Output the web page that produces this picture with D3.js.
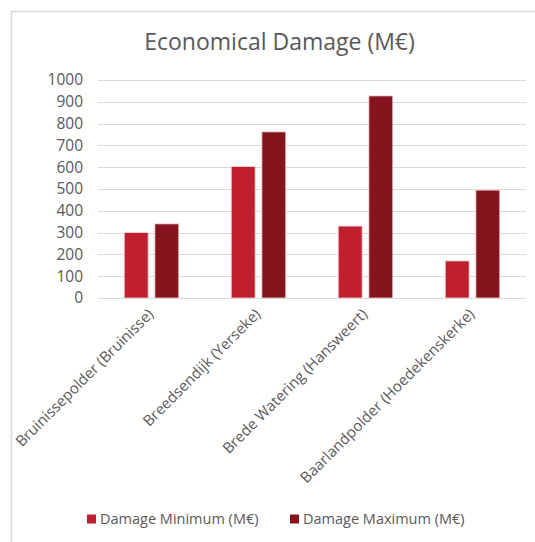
<!DOCTYPE html>
<html>
<head>
<meta charset="utf-8">
<script src="https://cdn.jsdelivr.net/npm/d3@7/dist/d3.min.js"></script>
<style>
  html, body { margin: 0; padding: 0; background: #fff; }
  svg { display: block; font-family: "Open Sans", sans-serif; }
</style>
</head>
<body>
<svg id="chart" width="535" height="542"></svg>
<script>
// Flood scenarios and their estimated economic damage range
const categories = [
  "Bruinissepolder (Bruinisse)",
  "Breedsendijk (Yerseke)",
  "Brede Watering (Hansweert)",
  "Baarlandpolder (Hoedekenskerke)"
];
const seriesNames = ["Damage Minimum (M€)", "Damage Maximum (M€)"];
const damageMinimum = [300, 603, 330, 170];
const damageMaximum = [340, 762, 927, 495];
const yTicks = [0, 100, 200, 300, 400, 500, 600, 700, 800, 900, 1000];
const colors = ["#C01F2F", "#86141F"];

const svg = d3.select("#chart");
const textColor = "#595959";

// Outer frame (top and left edges)
svg.append("path")
  .attr("d", "M11.5,542 V11.5 H535")
  .attr("fill", "none")
  .attr("stroke", "#d9d9d9")
  .attr("stroke-width", 1.5);

// Title
svg.append("text")
  .attr("x", 279.5)
  .attr("y", 50)
  .attr("text-anchor", "middle")
  .attr("fill", textColor)
  .attr("font-size", 23)
  .text("Economical Damage (M€)");

const plot = { left: 98, right: 526, top: 80, bottom: 298 };

const y = d3.scaleLinear().domain([0, 1000]).range([plot.bottom, plot.top]);
const x0 = d3.scaleBand().domain(categories).range([plot.left, plot.right])
  .paddingInner(0.49).paddingOuter(0.245);
const x1 = d3.scaleBand().domain(seriesNames).range([0, x0.bandwidth()])
  .paddingInner(0.22).paddingOuter(0);

// Gridlines
svg.append("g")
  .selectAll("line")
  .data(yTicks)
  .join("line")
  .attr("x1", plot.left)
  .attr("x2", plot.right)
  .attr("y1", d => Math.round(y(d)) + 0.5)
  .attr("y2", d => Math.round(y(d)) + 0.5)
  .attr("stroke", "#d9d9d9")
  .attr("stroke-width", 1);

// Y axis labels
const yAxis = d3.axisLeft(y).tickValues(yTicks).tickFormat(d3.format("d"))
  .tickSize(0).tickPadding(0);
const yg = svg.append("g")
  .attr("transform", `translate(83,0)`)
  .call(yAxis);
yg.select(".domain").remove();
yg.selectAll("text")
  .attr("fill", textColor)
  .attr("font-size", 15.5)
  .attr("font-family", "Open Sans, sans-serif");

// Bars
const rows = categories.map((c, i) => ({ cat: c, values: [damageMinimum[i], damageMaximum[i]] }));
svg.append("g")
  .selectAll("g")
  .data(rows)
  .join("g")
  .attr("transform", d => `translate(${x0(d.cat)},0)`)
  .selectAll("rect")
  .data(d => d.values.map((v, k) => ({ name: seriesNames[k], value: v, k })))
  .join("rect")
  .attr("x", d => x1(d.name))
  .attr("y", d => y(d.value))
  .attr("width", x1.bandwidth())
  .attr("height", d => y(0) - y(d.value))
  .attr("fill", d => colors[d.k])
  .attr("stroke", "#f3d6d8")
  .attr("stroke-width", 0.8);

// Category labels, rotated 45°
const xAxis = d3.axisBottom(x0).tickSize(0).tickPadding(0);
const xg = svg.append("g")
  .attr("transform", `translate(0,${plot.bottom})`)
  .call(xAxis);
xg.select(".domain").remove();
xg.selectAll("text")
  .attr("fill", textColor)
  .attr("font-size", 15)
  .attr("font-family", "Open Sans, sans-serif")
  .attr("text-anchor", "end")
  .attr("dy", null)
  .attr("y", 0)
  .attr("transform", "translate(3,17) rotate(-45)");

// Legend
const legend = svg.append("g").attr("transform", "translate(0,519)");
const legendX = [87, 290];
seriesNames.forEach((name, k) => {
  legend.append("rect")
    .attr("x", legendX[k])
    .attr("y", -4.5)
    .attr("width", 9)
    .attr("height", 9)
    .attr("fill", colors[k]);
  legend.append("text")
    .attr("x", legendX[k] + 13)
    .attr("y", 0)
    .attr("dy", "0.35em")
    .attr("fill", textColor)
    .attr("font-size", 14.5)
    .text(name);
});
</script>
</body>
</html>
